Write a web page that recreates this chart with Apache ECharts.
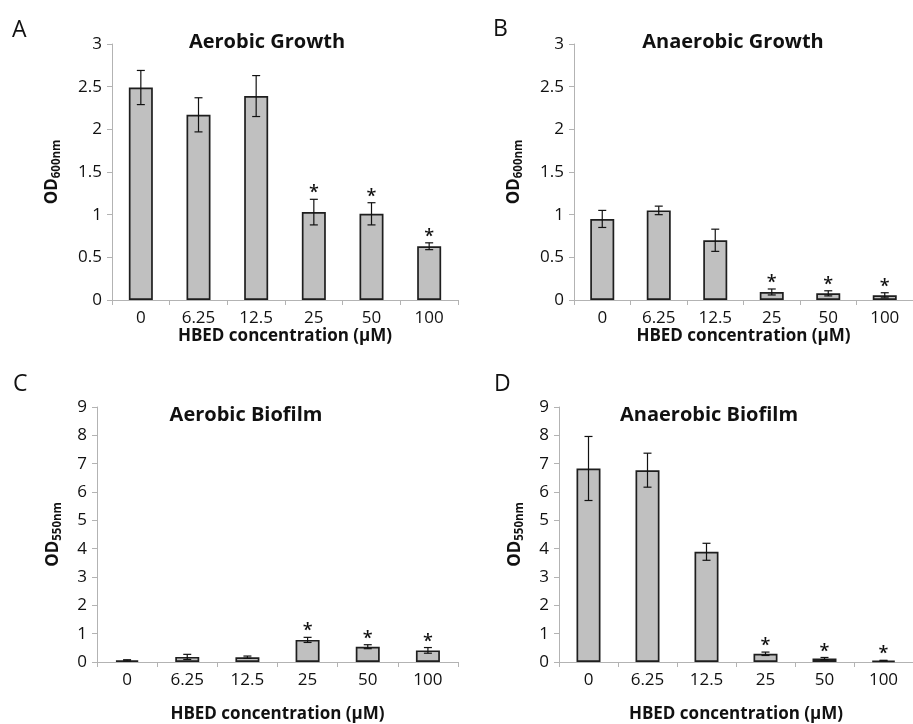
<!DOCTYPE html>
<html>
<head>
<meta charset="utf-8">
<script src="https://cdn.jsdelivr.net/npm/echarts@6/dist/echarts.min.js"></script>
<style>
html,body{margin:0;padding:0;background:#fff;}
#chart{width:913px;height:724px;}
</style>
</head>
<body>
<div id="chart"></div>
<script>
// ---- data ----
const categories = ['0', '6.25', '12.5', '25', '50', '100'];

const aerobicGrowth = [2.49, 2.17, 2.39, 1.03, 1.01, 0.63];
const aerobicGrowthErr = [0.20, 0.20, 0.24, 0.15, 0.13, 0.04];

const anaerobicGrowth = [0.95, 1.05, 0.70, 0.094, 0.078, 0.055];
const anaerobicGrowthErr = [0.10, 0.05, 0.13, 0.035, 0.03, 0.03];

const aerobicBiofilm = [0.06, 0.18, 0.17, 0.78, 0.54, 0.41];
const aerobicBiofilmErr = [0.02, 0.09, 0.04, 0.09, 0.07, 0.10];

const anaerobicBiofilm = [6.83, 6.77, 3.89, 0.29, 0.12, 0.05];
const anaerobicBiofilmErr = [1.13, 0.60, 0.30, 0.06, 0.04, 0.01];

const significant = [0, 0, 0, 1, 1, 1];

const growthAxis = { min: 0, max: 3, interval: 0.5 };
const biofilmAxis = { min: 0, max: 9, interval: 1 };

const panelTitles = ['Aerobic Growth', 'Anaerobic Growth', 'Aerobic Biofilm', 'Anaerobic Biofilm'];
const panelLetters = ['A', 'B', 'C', 'D'];
const xAxisName = 'HBED concentration (\u03BCM)';
const yNames = ['600nm', '600nm', '550nm', '550nm'];

// ---- chart ----
const FONT = '"Open Sans"';
const chart = echarts.init(document.getElementById('chart'), null, { renderer: 'canvas' });

const grids = [
  { left: 112, top: 44, width: 346, height: 256 },
  { left: 574, top: 44, width: 339, height: 256 },
  { left: 97, top: 407, width: 361, height: 256 },
  { left: 559, top: 407, width: 354, height: 256 }
];
const xNameGaps = [23, 23, 44, 44];
const yNameGaps = [49, 49, 33, 33];
const panelData = [
  [aerobicGrowth, aerobicGrowthErr, growthAxis],
  [anaerobicGrowth, anaerobicGrowthErr, growthAxis],
  [aerobicBiofilm, aerobicBiofilmErr, biofilmAxis],
  [anaerobicBiofilm, anaerobicBiofilmErr, biofilmAxis]
];

const axisGray = '#b3b3b3';

const xAxes = grids.map((g, i) => ({
  type: 'category',
  gridIndex: i,
  data: categories,
  axisLine: { lineStyle: { color: axisGray, width: 1 } },
  axisTick: { show: true, length: 5, lineStyle: { color: axisGray } },
  axisLabel: { fontFamily: FONT, fontSize: 17, color: '#111', margin: 10 },
  name: xAxisName,
  nameLocation: 'middle',
  nameGap: xNameGaps[i],
  nameTextStyle: { fontFamily: FONT, fontSize: 17, fontWeight: 'bold', color: '#111' }
}));

const yAxes = grids.map((g, i) => ({
  type: 'value',
  gridIndex: i,
  min: panelData[i][2].min,
  max: panelData[i][2].max,
  interval: panelData[i][2].interval,
  splitLine: { show: false },
  axisLine: { show: true, lineStyle: { color: axisGray, width: 1 } },
  axisTick: { show: true, length: 5, lineStyle: { color: axisGray } },
  axisLabel: { fontFamily: FONT, fontSize: 17, color: '#111', margin: 10 },
  name: '{a|OD}{b|' + yNames[i] + '}',
  nameLocation: 'middle',
  nameRotate: 90,
  nameGap: yNameGaps[i],
  nameTextStyle: {
    rich: {
      a: { fontFamily: FONT, fontSize: 17, fontWeight: 'bold', color: '#111', lineHeight: 22 },
      b: { fontFamily: FONT, fontSize: 11.5, fontWeight: 'bold', color: '#111', verticalAlign: 'bottom', lineHeight: 22, padding: [8, 0, 0, 0] }
    }
  }
}));

function errRender(params, api) {
  const idx = api.value(0);
  const lo = api.value(1), hi = api.value(2), star = api.value(3);
  const pLo = api.coord([idx, lo]);
  const pHi = api.coord([idx, hi]);
  const cap = 4;
  const ls = { stroke: '#111', lineWidth: 1.2 };
  const children = [
    { type: 'line', shape: { x1: pLo[0], y1: pLo[1], x2: pHi[0], y2: pHi[1] }, style: ls },
    { type: 'line', shape: { x1: pLo[0] - cap, y1: pLo[1], x2: pLo[0] + cap, y2: pLo[1] }, style: ls },
    { type: 'line', shape: { x1: pHi[0] - cap, y1: pHi[1], x2: pHi[0] + cap, y2: pHi[1] }, style: ls }
  ];
  if (star) {
    children.push({
      type: 'text',
      x: pHi[0], y: pHi[1] - 6,
      style: { text: '*', fill: '#111', font: '600 18px ' + FONT, align: 'center', verticalAlign: 'middle', textAlign: 'center', textVerticalAlign: 'middle' }
    });
  }
  return { type: 'group', children: children };
}

const series = [];
panelData.forEach((pd, i) => {
  const vals = pd[0], errs = pd[1];
  series.push({
    type: 'bar',
    xAxisIndex: i, yAxisIndex: i,
    data: vals,
    barWidth: 24,
    itemStyle: { color: '#c0c0c0', borderColor: '#1e1e1e', borderWidth: 1.7 },
    silent: true
  });
  series.push({
    type: 'custom',
    xAxisIndex: i, yAxisIndex: i,
    renderItem: errRender,
    data: vals.map((v, k) => [k, v - errs[k], v + errs[k], significant[k]]),
    z: 5,
    silent: true
  });
});

const titlePos = [[267, 42], [733, 42], [246, 415], [709, 415]];
const letterPos = [[12, 30], [493, 29], [13, 384], [494, 384]];
const graphics = [];
panelTitles.forEach((t, i) => {
  graphics.push({
    type: 'text', x: titlePos[i][0], y: titlePos[i][1],
    style: { text: t, font: 'bold 20px ' + FONT, fill: '#111', align: 'center', verticalAlign: 'middle', textAlign: 'center', textVerticalAlign: 'middle' }
  });
});
panelLetters.forEach((t, i) => {
  graphics.push({
    type: 'text', x: letterPos[i][0], y: letterPos[i][1],
    style: { text: t, font: '23px ' + FONT, fill: '#111', align: 'left', verticalAlign: 'middle', textAlign: 'left', textVerticalAlign: 'middle' }
  });
});

chart.setOption({
  animation: false,
  backgroundColor: '#fff',
  grid: grids,
  xAxis: xAxes,
  yAxis: yAxes,
  series: series,
  graphic: graphics
});
</script>
</body>
</html>
